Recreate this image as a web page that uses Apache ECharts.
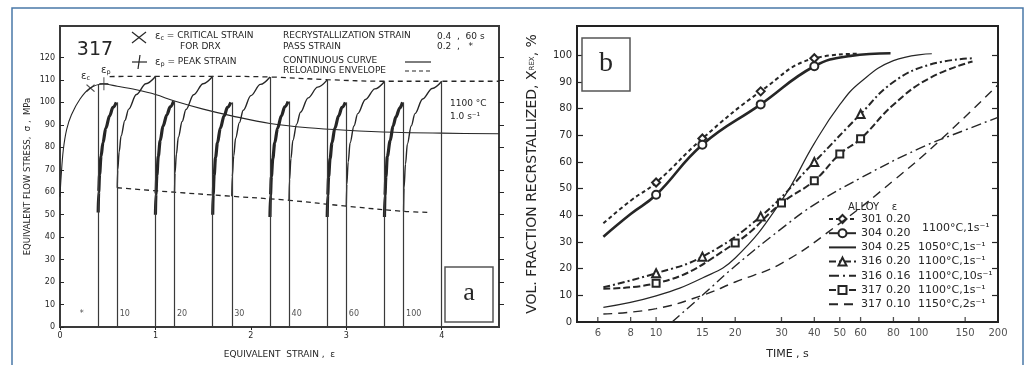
<!DOCTYPE html>
<html><head><meta charset="utf-8">
<script src="https://cdn.jsdelivr.net/npm/echarts@6/dist/echarts.min.js"></script>
<style>html,body{margin:0;padding:0;background:#fff}#c{width:1033px;height:365px}</style>
</head><body><div id="c"></div>
<script>
// ================= Panel a : flow stress vs strain (alloy 317) =================
const continuousCurve = [[0,58],[0.012,67],[0.035,79],[0.07,88],[0.12,94.5],[0.21,101.5],[0.31,106.2],[0.45,108.2],[0.6,107.2],[0.8,105.6],[1.0,103.5],[1.2,100.6],[1.5,97],[1.8,94],[2.2,90.6],[2.6,88.7],[3.0,87.6],[3.5,86.7],[4.0,86.3],[4.6,86]];
const upperEnvelope = [[0.52,111.5],[1.0,111.6],[1.6,111.6],[2.2,111.3],[2.8,110.1],[3.4,109.4],[4.0,109.4],[4.6,109.4]];
const lowerEnvelope = [[0.6,62],[1.2,60],[1.8,58.2],[2.4,56.4],[3.0,53.8],[3.6,51.5],[3.88,51]];
const reload1 = [[0.6,62],[0.605,70],[0.62,78],[0.64,85],[0.68,92],[0.72,97],[0.8,103.5],[0.9,108.3],[1.0,111.5]];
const reload2 = [[1.2,60],[1.205,68.5],[1.22,77],[1.24,84.5],[1.28,91.5],[1.32,96.8],[1.4,103.4],[1.5,108.3],[1.6,111.6]];
const reload3 = [[1.8,58.2],[1.805,67],[1.82,76],[1.84,84],[1.88,91],[1.92,96.5],[2.0,103],[2.1,108],[2.2,111.3]];
const reload4 = [[2.4,56.4],[2.405,65.5],[2.42,75],[2.44,83],[2.48,90.3],[2.52,95.6],[2.6,102],[2.7,106.8],[2.8,110]];
const reload5 = [[3.0,53.8],[3.005,63.5],[3.02,73.5],[3.04,82],[3.08,89.5],[3.12,95],[3.2,101.3],[3.3,106],[3.4,109.3]];
const reload6 = [[3.6,51.5],[3.605,62],[3.62,72.5],[3.64,81.5],[3.68,89.5],[3.72,95],[3.8,101.5],[3.9,106.2],[4.0,109.4]];
const pass1 = [[0.4,51],[0.405,60],[0.415,68],[0.43,76],[0.45,82],[0.48,88.5],[0.52,94],[0.555,97.8],[0.59,100]];
const pass2 = [[1.0,50],[1.005,59],[1.015,67.5],[1.03,76],[1.05,83],[1.08,89.5],[1.12,94.5],[1.155,98],[1.19,100.5]];
const pass3 = [[1.6,50],[1.605,59],[1.615,67.5],[1.63,75.5],[1.65,82],[1.68,88.5],[1.72,94],[1.755,97.8],[1.79,100]];
const pass4 = [[2.2,49],[2.205,58.5],[2.215,67],[2.23,75],[2.25,82],[2.28,88.5],[2.32,94],[2.355,98],[2.39,100.4]];
const pass5 = [[2.8,49],[2.805,58.5],[2.815,67],[2.83,75],[2.85,82],[2.88,88.5],[2.92,94],[2.955,97.8],[2.99,100]];
const pass6 = [[3.4,49],[3.405,58.5],[3.415,67],[3.43,76],[3.46,83],[3.49,89.5],[3.52,93.5],[3.56,97.5],[3.59,100]];
const unloadStrains = [0.4,0.6,1.0,1.2,1.6,1.8,2.2,2.4,2.8,3.0,3.4,3.6,4.0];
const unloadTops = [108,100,111.5,100.5,111.6,100,111.3,100.4,110,100,109.3,100,109.4];
const critStrain = [[0.32,106.3]];
const peakStrain = [[0.46,108.3]];
const holdStrains = [0.18,0.6,1.2,1.8,2.4,3.0,3.6];
const holdLabels = ['*','10','20','30','40','60','100'];
const strainTicks = [0,1,2,3,4];
const stressTicks = [0,10,20,30,40,50,60,70,80,90,100,110,120];

// ================= Panel b : recrystallized fraction vs time =================
const timeTicks = [6,8,10,15,20,30,40,50,60,80,100,150,200];
const fracTicks = [0,10,20,30,40,50,60,70,80,90,100];
const a301 = [[6.3,37],[8,45.5],[10,52.3],[15,68.8],[25,86.5],[40,98.9],[58,100.6]];
const m301 = [10,15,25,40];
const a304 = [[6.3,32],[8,40.5],[10,47.7],[15,66.5],[25,81.6],[40,95.9],[55,99.8],[78,100.8]];
const m304 = [10,15,25,40];
const a304b = [[6.3,5.5],[10,9.8],[15,16.5],[20,24],[30,45.5],[40,67],[50,81.5],[60,90],[80,98],[112,100.6]];
const a316 = [[6.3,13],[10,18.3],[15,24.5],[25,39.6],[40,60],[60,78],[80,90],[110,96.5],[160,98.9]];
const m316 = [10,15,25,40,60];
const a316b = [[11.5,0],[15,10],[20,21],[30,35],[40,44],[60,54],[100,65],[150,72],[200,76.7]];
const a317 = [[6.3,12.5],[10,14.5],[20,29.6],[30,44.6],[40,53],[50,63],[60,68.7],[80,81.5],[110,91.5],[160,97.7]];
const m317 = [10,20,30,40,50,60];
const a317b = [[6.3,3],[10,5],[15,10],[20,15],[30,22],[50,37],[80,53],[120,68],[200,89]];
const legendAlloy = ['301','304','304','316','316','317','317'];
const legendStrain = ['0.20','0.20','0.25','0.20','0.16','0.20','0.10'];
const legendCond = ['','','1050°C,1s⁻¹','1100°C,1s⁻¹','1100°C,10s⁻¹','1100°C,1s⁻¹','1150°C,2s⁻¹'];
const sharedCond = '1100°C,1s⁻¹';

// ================= build =================
const INK = '#262626';
const FONT = 'DejaVu Sans';
const chart = echarts.init(document.getElementById('c'));

function curveA(data, width, type, z, mono) {
  const s = {type:'line', xAxisIndex:0, yAxisIndex:0, data:data, symbol:'none', smooth:0.35,
    silent:true, z:z||3, animation:false,
    lineStyle:{color:INK, width:width, type:type||'solid'}};
  if (mono) s.smoothMonotone = 'x';
  return s;
}
function withMarks(pts, marks) {
  return pts.map(p => marks.indexOf(p[0]) >= 0 ? {value:p} : {value:p, symbol:'none'});
}
const names = legendAlloy.map((a,i) => a + ' ' + legendStrain[i]);
function curveB(i, data, marks, symbol, width, type) {
  return {type:'line', name:names[i], xAxisIndex:1, yAxisIndex:2,
    data: marks ? withMarks(data, marks) : data,
    symbol: symbol || 'none', symbolSize: symbol === 'emptyRect' ? 7 : 8, showSymbol:true,
    smooth:0.45, silent:true, animation:false, z:4,
    itemStyle:{color:INK, borderWidth:1.4},
    lineStyle:{color:INK, width:width, type:type}};
}

const contSeries = curveA(continuousCurve, 1.1);
contSeries.markLine = {silent:true, symbol:['none','none'], label:{show:false}, animation:false,
  lineStyle:{color:'#3a3a3a', width:1.2, type:'solid'},
  data: unloadStrains.map((x,i) => [{coord:[x,0]},{coord:[x,unloadTops[i]]}])};

const series = [
  contSeries,
  curveA(upperEnvelope, 1.3, [5,4]),
  curveA(lowerEnvelope, 1.3, [5,4]),
  curveA(reload1,1.4,'solid',3,true), curveA(reload2,1.4,'solid',3,true), curveA(reload3,1.4,'solid',3,true),
  curveA(reload4,1.4,'solid',3,true), curveA(reload5,1.4,'solid',3,true), curveA(reload6,1.4,'solid',3,true),
  curveA(pass1,3.2,'solid',4,true), curveA(pass2,3.2,'solid',4,true), curveA(pass3,3.2,'solid',4,true),
  curveA(pass4,3.2,'solid',4,true), curveA(pass5,3.2,'solid',4,true), curveA(pass6,3.2,'solid',4,true),
  {type:'scatter', xAxisIndex:0, yAxisIndex:0, data:critStrain, silent:true, z:6,
   symbol:'path://M0,0L10,10M10,0L0,10', symbolSize:[8,7],
   itemStyle:{color:'none', borderColor:INK, borderWidth:1.2}},
  {type:'scatter', xAxisIndex:0, yAxisIndex:0, data:peakStrain, silent:true, z:6,
   symbol:'path://M5,0L5,10M0,5L10,5', symbolSize:[9,13],
   itemStyle:{color:'none', borderColor:INK, borderWidth:1.2}},
  {type:'scatter', xAxisIndex:0, yAxisIndex:0, silent:true, z:6, clip:false,
   data: holdStrains.map((x,i) => ({value:[x,6], name:holdLabels[i]})),
   symbol:'circle', symbolSize:1, itemStyle:{color:'transparent'},
   label:{show:true, position:'right', distance:2, formatter:p => p.name,
     fontFamily:FONT, fontSize:8, color:INK}},
  curveB(0, a301, m301, 'emptyDiamond', 2, [4,3]),
  curveB(1, a304, m304, 'emptyCircle', 2.6, 'solid'),
  curveB(2, a304b, null, 'none', 1.2, 'solid'),
  curveB(3, a316, m316, 'emptyTriangle', 2, [7,3,2,3]),
  curveB(4, a316b, null, 'none', 1.4, [10,4,2,4]),
  curveB(5, a317, m317, 'emptyRect', 2, [7,3]),
  curveB(6, a317b, null, 'none', 1.4, [9,6]),
  {type:'scatter', xAxisIndex:1, yAxisIndex:2, silent:true, clip:false, z:6,
   data: timeTicks.map(t => [t,0]),
   symbol:'rect', symbolSize:[1.3,5], symbolOffset:[0,-2.5], itemStyle:{color:INK},
   label:{show:true, position:'bottom', distance:6, formatter:p => String(p.value[0]),
     fontFamily:FONT, fontSize:10, color:INK}}
];

function T(x, y, text, size, extra) {
  const st = Object.assign({x:x, y:y, text:text, fill:INK, fontFamily:FONT, fontSize:size,
    align:'left', textAlign:'left', verticalAlign:'middle', textVerticalAlign:'middle'}, extra || {});
  return {type:'text', silent:true, z:20, style:st};
}
const subRich = {e:{fontFamily:FONT, fontSize:10, fill:INK}, s:{fontFamily:FONT, fontSize:6.5, fill:INK, padding:[5,0,0,0]}, n:{fontFamily:FONT, fontSize:9, fill:INK}};

const graphic = [
  {type:'polyline', silent:true, z:30, shape:{points:[[12,366],[12,8],[1023,8],[1023,366]]},
   style:{stroke:'#4a78a8', lineWidth:1.5, fill:null}},
  // panel a decorations
  T(95,50,'317',19,{align:'center', textAlign:'center'}),
  {type:'polyline', silent:true, z:20, shape:{points:[[132,32],[139,37.5],[146,43]]}, style:{stroke:INK, lineWidth:1.2, fill:null}},
  {type:'polyline', silent:true, z:20, shape:{points:[[132,43],[139,37.5],[146,32]]}, style:{stroke:INK, lineWidth:1.2, fill:null}},
  {type:'line', silent:true, z:20, shape:{x1:140, y1:55, x2:138, y2:69}, style:{stroke:INK, lineWidth:1.2}},
  {type:'line', silent:true, z:20, shape:{x1:132, y1:62, x2:147, y2:62}, style:{stroke:INK, lineWidth:1.2}},
  T(155,36,'{e|ε}{s|c}{n| = CRITICAL STRAIN}',9,{rich:subRich}),
  T(180,47,'FOR DRX',9),
  T(155,62,'{e|ε}{s|p}{n| = PEAK STRAIN}',9,{rich:subRich}),
  T(283,36,'RECRYSTALLIZATION STRAIN',9),
  T(283,47,'PASS STRAIN',9),
  T(283,61,'CONTINUOUS CURVE',9),
  T(283,71,'RELOADING ENVELOPE',9),
  T(437,37,'0.4  ,  60 s',9),
  T(437,47,'0.2  ,   *',9),
  {type:'line', silent:true, z:20, shape:{x1:405, y1:62, x2:431, y2:62}, style:{stroke:INK, lineWidth:1.2}},
  {type:'line', silent:true, z:20, shape:{x1:405, y1:71, x2:431, y2:71}, style:{stroke:INK, lineWidth:1.2, lineDash:[4,3]}},
  T(450,104,'1100 °C',9),
  T(450,117,'1.0 s⁻¹',9),
  T(81,76,'{e|ε}{s|c}',10,{rich:subRich}),
  T(101,70,'{e|ε}{s|p}',10,{rich:subRich}),
  {type:'rect', silent:true, z:15, shape:{x:445, y:267, width:48, height:55}, style:{fill:'#fff', stroke:'#555', lineWidth:1.5}},
  T(469,293,'a',26,{fontFamily:'Liberation Serif', align:'center', textAlign:'center'}),
  // panel b decorations
  {type:'rect', silent:true, z:15, shape:{x:582, y:38, width:48, height:53}, style:{fill:'#fff', stroke:'#555', lineWidth:1.5}},
  T(606,64,'b',28,{fontFamily:'Liberation Serif', align:'center', textAlign:'center'}),
  T(848,207,'ALLOY    ε',10),
  T(922,228,sharedCond,11)
];

const noMarker = [false,false,true,false,true,false,true];
const option = {
  backgroundColor:'#fff',
  animation:false,
  textStyle:{fontFamily:FONT},
  graphic: graphic,
  grid:[
    {left:60, top:26, width:439, height:301, show:true, borderColor:'#3a3a3a', borderWidth:2, backgroundColor:'#fff'},
    {left:577, top:26, width:421, height:296, show:true, borderColor:'#222', borderWidth:2, backgroundColor:'#fff'}
  ],
  legend:{
    data:names.map((n,i) => noMarker[i] ? {name:n, itemStyle:{color:'rgba(0,0,0,0)', borderColor:'rgba(0,0,0,0)', borderWidth:0, opacity:0}} : {name:n}),
    left:828, top:213, orient:'vertical', itemWidth:27, itemHeight:10, itemGap:2.2,
    selectedMode:false, padding:0,
    textStyle:{fontFamily:FONT, fontSize:11, color:INK, lineHeight:12,
      rich:{a:{width:25, fontFamily:FONT, fontSize:11, color:INK},
            b:{width:32, fontFamily:FONT, fontSize:11, color:INK},
            c:{fontFamily:FONT, fontSize:11, color:INK}}},
    formatter: name => {
      const i = names.indexOf(name);
      return '{a|' + legendAlloy[i] + '}{b|' + legendStrain[i] + '}' + (legendCond[i] ? '{c|' + legendCond[i] + '}' : '');
    }
  },
  xAxis:[
    {gridIndex:0, type:'value', min:0, max:4.6,
     axisLine:{show:true, lineStyle:{color:'#3a3a3a', width:2}},
     axisTick:{show:true, customValues:strainTicks, length:3, lineStyle:{color:INK}},
     axisLabel:{customValues:strainTicks, fontSize:8, color:INK, margin:5, fontFamily:FONT},
     splitLine:{show:false},
     name:'EQUIVALENT  STRAIN ,  ε', nameLocation:'middle', nameGap:23,
     nameTextStyle:{fontSize:9, color:INK, fontFamily:FONT}},
    {gridIndex:1, type:'log', logBase:10, min:5, max:200,
     axisLine:{show:true, lineStyle:{color:'#222', width:2}},
     axisTick:{show:false}, axisLabel:{show:false}, minorTick:{show:false},
     splitLine:{show:false}, minorSplitLine:{show:false},
     name:'TIME , s', nameLocation:'middle', nameGap:27,
     nameTextStyle:{fontSize:11, color:INK, fontFamily:FONT}}
  ],
  yAxis:[
    {gridIndex:0, type:'value', min:0, max:134,
     axisLine:{show:true, lineStyle:{color:'#3a3a3a', width:2}},
     axisTick:{show:true, inside:true, customValues:stressTicks, length:4, lineStyle:{color:INK}},
     axisLabel:{customValues:stressTicks, fontSize:8, color:INK, margin:5, fontFamily:FONT},
     splitLine:{show:false},
     name:'EQUIVALENT FLOW STRESS,  σ ,  MPa', nameLocation:'middle', nameGap:28,
     nameTextStyle:{fontSize:8.5, color:INK, fontFamily:FONT}},
    {gridIndex:0, type:'value', min:0, max:134, position:'right',
     axisLine:{show:false}, axisLabel:{show:false}, splitLine:{show:false},
     axisTick:{show:true, inside:false, customValues:stressTicks.slice(1), length:5, lineStyle:{color:INK}}},
    {gridIndex:1, type:'value', min:0, max:111,
     axisLine:{show:true, lineStyle:{color:'#222', width:2}},
     axisTick:{show:true, inside:true, customValues:fracTicks.slice(1), length:6, lineStyle:{color:INK, width:1.2}},
     axisLabel:{customValues:fracTicks, fontSize:10, color:INK, margin:5, fontFamily:FONT},
     splitLine:{show:false},
     name:'VOL. FRACTION RECRSTALLIZED, X{s|REX}, %', nameLocation:'middle', nameGap:38,
     nameTextStyle:{fontSize:14, color:INK, fontFamily:FONT,
       rich:{s:{fontSize:7, color:INK, fontFamily:FONT}}}},
    {gridIndex:1, type:'value', min:0, max:111, position:'right',
     axisLine:{show:false}, axisLabel:{show:false}, splitLine:{show:false},
     axisTick:{show:true, inside:true, customValues:fracTicks.slice(1), length:6, lineStyle:{color:INK, width:1.2}}}
  ],
  series: series
};
chart.setOption(option);
</script></body></html>
